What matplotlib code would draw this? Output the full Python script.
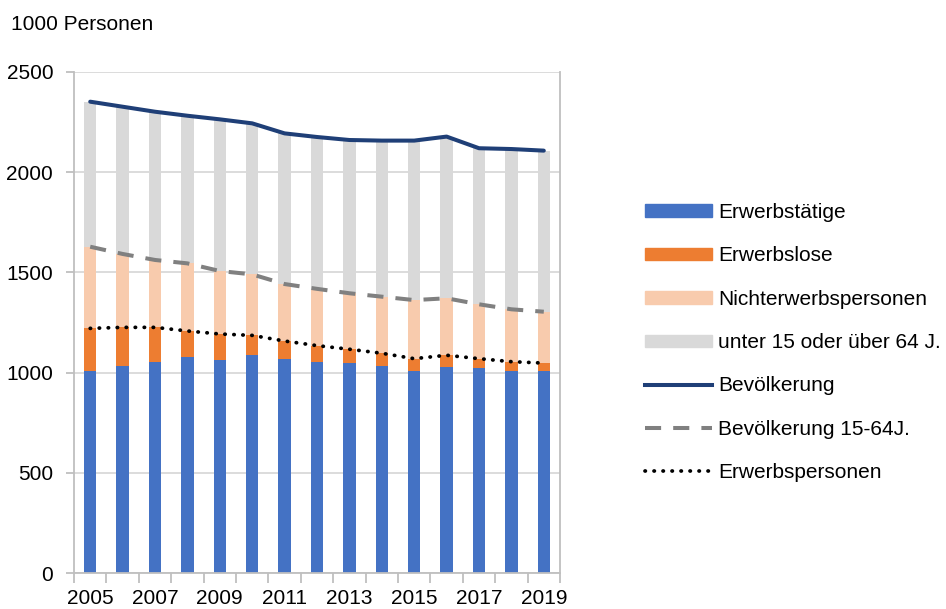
import numpy as np
import matplotlib
matplotlib.use("Agg")
import matplotlib.pyplot as plt
from matplotlib.patches import Patch
from matplotlib.lines import Line2D

plt.rcParams['font.family'] = ['Liberation Sans', 'DejaVu Sans']

years = list(range(2005, 2020))
# values in 1000 persons
erwerbstaetige = [1010, 1033, 1055, 1077, 1065, 1087, 1070, 1055, 1050, 1033, 1007, 1030, 1023, 1010, 1008]
erwerbspersonen = [1221, 1226, 1226, 1208, 1193, 1186, 1158, 1135, 1117, 1097, 1070, 1087, 1070, 1055, 1048]
bev_15_64 = [1628, 1592, 1562, 1545, 1507, 1490, 1442, 1418, 1396, 1379, 1362, 1371, 1341, 1316, 1304]
bevoelkerung = [2351, 2326, 2301, 2281, 2263, 2243, 2193, 2175, 2160, 2157, 2157, 2177, 2119, 2115, 2107]

erwerbslose = np.array(erwerbspersonen) - np.array(erwerbstaetige)
nichterwerb = np.array(bev_15_64) - np.array(erwerbspersonen)
alt_jung = np.array(bevoelkerung) - np.array(bev_15_64)

c_blue = '#4472C4'
c_orange = '#ED7D31'
c_peach = '#F8CBAD'
c_gray = '#D9D9D9'
c_navy = '#1F3F77'
c_dash = '#808080'
fs = 15

fig = plt.figure(figsize=(9.46, 6.09), dpi=100)
ax = fig.add_axes([74 / 946, 1 - 573.3 / 609, 486 / 946, 501.5 / 609])

x = np.arange(len(years))
w = 0.385
ax.bar(x, erwerbstaetige, w, color=c_blue, zorder=2)
ax.bar(x, erwerbslose, w, bottom=erwerbstaetige, color=c_orange, zorder=2)
ax.bar(x, nichterwerb, w, bottom=erwerbspersonen, color=c_peach, zorder=2)
ax.bar(x, alt_jung, w, bottom=bev_15_64, color=c_gray, zorder=2)

ax.plot(x, bevoelkerung, color=c_navy, lw=2.9, solid_capstyle='round', zorder=3)
ax.plot(x, bev_15_64, color=c_dash, lw=2.9, dashes=(4, 3), zorder=3)
ax.plot(x, erwerbspersonen, color='black', lw=2.7, dashes=(0.1, 2.3),
        dash_capstyle='round', zorder=3)

ax.set_xlim(-0.5, len(years) - 0.5)
ax.set_ylim(0, 2500)
ax.set_yticks(np.arange(0, 2501, 500))
ax.yaxis.grid(True, color='#D9D9D9', lw=1.3, zorder=0)
ax.set_axisbelow(True)

ax.set_xticks(np.arange(-0.5, len(years), 1.0))
ax.set_xticklabels([])
ax.set_xticks(x[::2], minor=True)
ax.set_xticklabels([str(y) for y in years[::2]], minor=True)
ax.tick_params(axis='x', which='minor', length=0, pad=11, labelsize=fs)
ax.tick_params(axis='x', which='major', length=7, width=1.3, color='#BFBFBF')
ax.tick_params(axis='y', length=6, width=1.3, color='#BFBFBF', pad=9, labelsize=fs)

for s in ['left', 'bottom', 'right']:
    ax.spines[s].set_color('#BFBFBF')
    ax.spines[s].set_linewidth(1.3)
ax.spines['top'].set_visible(False)

fig.text(11 / 946, 1 - 30 / 609, '1000 Personen', fontsize=fs, va='baseline')

handles = [
    Patch(color=c_blue, label='Erwerbstätige'),
    Patch(color=c_orange, label='Erwerbslose'),
    Patch(color=c_peach, label='Nichterwerbspersonen'),
    Patch(color=c_gray, label='unter 15 oder über 64 J.'),
    Line2D([], [], color=c_navy, lw=2.9, label='Bevölkerung'),
    Line2D([], [], color=c_dash, lw=2.9, dashes=(4, 3), label='Bevölkerung 15-64J.'),
    Line2D([], [], color='black', lw=2.7, dashes=(0.1, 2.3), dash_capstyle='round',
           label='Erwerbspersonen'),
]
fig.legend(handles=handles, loc='upper left', bbox_to_anchor=(645 / 946, 1 - 203 / 609),
           frameon=False, fontsize=fs, handlelength=3.2, handleheight=0.53,
           handletextpad=0.32, labelspacing=1.17, borderaxespad=0, borderpad=0)

fig.savefig('out.png', dpi=100)
